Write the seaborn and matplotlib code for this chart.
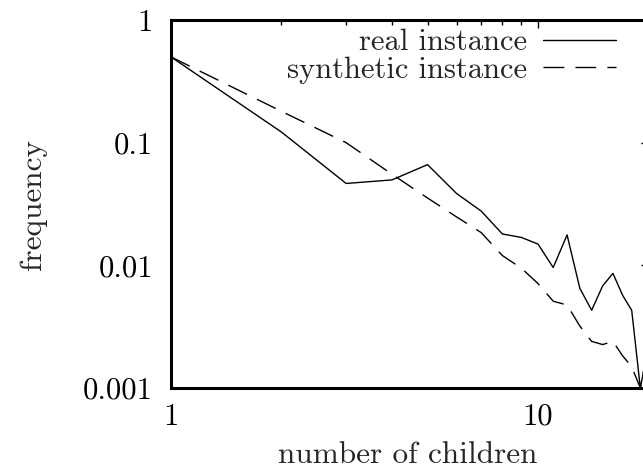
import numpy as np
import pandas as pd
import matplotlib
matplotlib.use("Agg")
import matplotlib.pyplot as plt
import matplotlib.ticker as mticker
import seaborn as sns

# ---- data ----
children = [1, 2, 3, 4, 5, 6, 7, 8, 9, 10, 11, 12, 13, 14, 15, 16, 17, 18, 19, 20]
real_freq = [0.5, 0.122, 0.0465, 0.0497, 0.0662, 0.0385, 0.0277, 0.018, 0.0169, 0.0149,
             0.0096, 0.0177, 0.0065, 0.0043, 0.0068, 0.0086, 0.0057, 0.0043, 0.001, 0.0022]
synth_freq = [0.5, 0.18, 0.1, 0.0553, 0.0354, 0.0248, 0.0185, 0.012, 0.0095, 0.0071,
              0.0051, 0.00475, 0.0032, 0.0024, 0.00226, 0.0024, 0.00183, 0.00149, 0.001, 0.0022]
series_names = ["real instance", "synthetic instance"]
x_ticks = [1, 10]
x_ticklabels = ["1", "10"]
y_ticks = [0.001, 0.01, 0.1, 1]
y_ticklabels = ["0.001", "0.01", "0.1", "1"]

df = pd.DataFrame({
    "children": children * 2,
    "frequency": real_freq + synth_freq,
    "instance": [series_names[0]] * len(children) + [series_names[1]] * len(children),
})

sns.set_style("white")
plt.rcParams["font.family"] = ["cmr10", "DejaVu Serif"]
plt.rcParams["axes.formatter.use_mathtext"] = True
plt.rcParams["mathtext.fontset"] = "cm"

W, H = 643, 471
fig = plt.figure(figsize=(W / 100, H / 100), dpi=100)
ax = fig.add_axes([171 / W, 1 - 388 / H, 477.5 / W, 368 / H])

sns.lineplot(data=df, x="children", y="frequency", hue="instance", style="instance",
             palette={series_names[0]: "black", series_names[1]: "black"},
             dashes={series_names[0]: "", series_names[1]: (15, 8)},
             linewidth=1.0, ax=ax, legend=True)

ax.set_xscale("log")
ax.set_yscale("log")
ax.set_xlim(1, 20)
ax.set_ylim(0.001, 1)

ax.xaxis.set_major_locator(mticker.FixedLocator(x_ticks))
ax.xaxis.set_major_formatter(mticker.FixedFormatter(x_ticklabels))
ax.xaxis.set_minor_locator(mticker.LogLocator(base=10, subs=np.arange(2, 10), numticks=20))
ax.xaxis.set_minor_formatter(mticker.NullFormatter())
ax.yaxis.set_major_locator(mticker.FixedLocator(y_ticks))
ax.yaxis.set_major_formatter(mticker.FixedFormatter(y_ticklabels))
ax.yaxis.set_minor_locator(mticker.LogLocator(base=10, subs=np.arange(2, 10), numticks=20))
ax.yaxis.set_minor_formatter(mticker.NullFormatter())

ax.tick_params(which="both", direction="in", top=True, right=True, colors="black",
               labelsize=22, width=1.0)
ax.tick_params(which="major", length=6)
ax.tick_params(which="minor", length=3.3)
ax.tick_params(axis="y", which="major", pad=13)
ax.tick_params(axis="x", which="major", pad=11)

for s in ax.spines.values():
    s.set_visible(True)
    s.set_linewidth(2.2)
    s.set_color("black")

ax.set_xlabel("number of children", fontsize=22.5)
ax.set_ylabel("frequency", fontsize=22.5)
ax.xaxis.set_label_coords(0.496, -0.145)
ax.yaxis.set_label_coords(-0.26, 0.5)

handles, labels = ax.get_legend_handles_labels()
leg = ax.legend(handles, labels, loc="upper right",
                bbox_to_anchor=(616 / W, 1 - 29 / H), bbox_transform=fig.transFigure,
                frameon=False, markerfirst=False, fontsize=22, borderpad=0,
                borderaxespad=0, handlelength=2.4, handletextpad=0.52,
                labelspacing=0.0)
for line in leg.get_lines():
    line.set_linewidth(1.0)

fig.savefig("out.png", dpi=100)
